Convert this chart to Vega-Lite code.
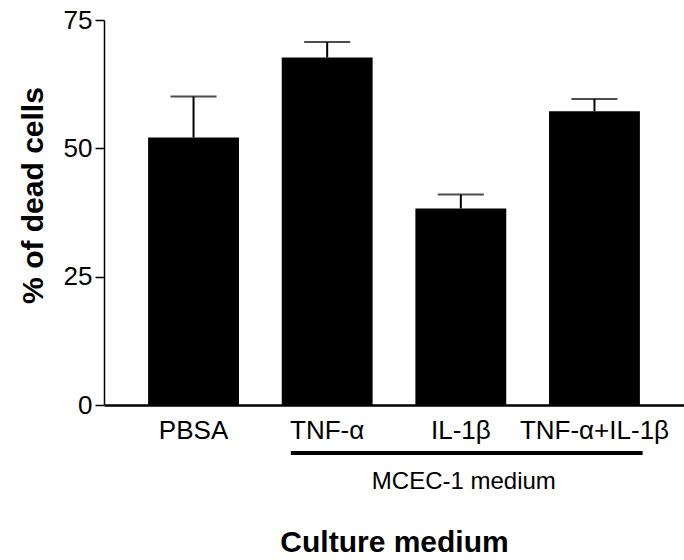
{
  "$schema": "https://vega.github.io/schema/vega-lite/v6.json",
  "autosize": "none",
  "width": 580,
  "height": 385,
  "padding": {"left": 104, "top": 20, "right": 0, "bottom": 155},
  "background": "white",
  "config": {
    "view": {"stroke": null},
    "font": "Liberation Sans",
    "axis": {"labelColor": "black", "titleColor": "black", "domainColor": "black", "tickColor": "black", "grid": false}
  },
  "datasets": {
    "cells": [
      {"medium": "PBSA", "mean": 52.1, "upper": 60.1},
      {"medium": "TNF-α", "mean": 67.7, "upper": 70.7},
      {"medium": "IL-1β", "mean": 38.3, "upper": 41.0},
      {"medium": "TNF-α+IL-1β", "mean": 57.2, "upper": 59.6}
    ],
    "groups": [
      {"label": "MCEC-1 medium", "first": "TNF-α", "last": "TNF-α+IL-1β", "centre": "IL-1β"}
    ]
  },
  "layer": [
    {
      "data": {"name": "cells"},
      "mark": {"type": "bar", "color": "black"},
      "encoding": {
        "x": {
          "field": "medium", "type": "nominal",
          "scale": {"domain": ["PBSA", "TNF-α", "IL-1β", "TNF-α+IL-1β"], "paddingInner": 0.32, "paddingOuter": 0.33},
          "axis": {
            "labelAngle": 0, "labelFontSize": 26, "labelPadding": 12, "ticks": false,
            "domainWidth": 2.5,
            "title": "Culture medium", "titleFontSize": 30, "titleFontWeight": "bold", "titlePadding": 84
          }
        },
        "y": {
          "field": "mean", "type": "quantitative",
          "scale": {"domain": [0, 75], "nice": false},
          "axis": {
            "values": [0, 25, 50, 75], "labelFontSize": 26, "labelPadding": 3,
            "tickSize": 9, "tickWidth": 1.5, "domainWidth": 1.5,
            "title": "% of dead cells", "titleFontSize": 30, "titleFontWeight": "bold", "titlePadding": 15,
            "titleY": 175
          }
        }
      }
    },
    {
      "data": {"name": "cells"},
      "mark": {"type": "rule", "color": "black", "strokeWidth": 2},
      "encoding": {
        "x": {"field": "medium", "type": "nominal"},
        "y": {"field": "mean", "type": "quantitative"},
        "y2": {"field": "upper"}
      }
    },
    {
      "data": {"name": "cells"},
      "mark": {"type": "tick", "color": "black", "size": 46, "thickness": 2, "orient": "horizontal"},
      "encoding": {
        "x": {"field": "medium", "type": "nominal"},
        "y": {"field": "upper", "type": "quantitative"}
      }
    },
    {
      "data": {"name": "groups"},
      "mark": {"type": "rule", "color": "black", "strokeWidth": 4},
      "encoding": {
        "x": {"field": "first", "type": "nominal", "bandPosition": 0.1},
        "x2": {"field": "last", "bandPosition": 1.03},
        "y": {"value": 433}
      }
    },
    {
      "data": {"name": "groups"},
      "mark": {"type": "text", "fontSize": 24, "baseline": "alphabetic", "align": "center", "dx": 3},
      "encoding": {
        "x": {"field": "centre", "type": "nominal", "bandPosition": 0.5},
        "y": {"value": 469},
        "text": {"field": "label"}
      }
    }
  ]
}
